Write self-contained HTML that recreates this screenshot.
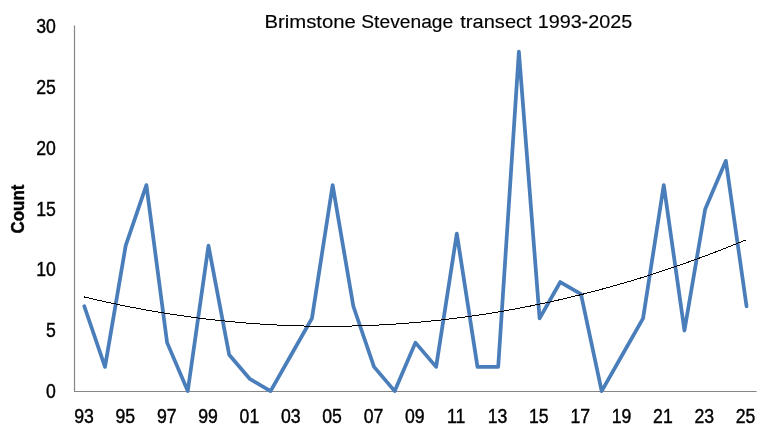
<!DOCTYPE html>
<html><head><meta charset="utf-8"><title>Brimstone Stevenage transect 1993-2025</title><style>
html,body{margin:0;padding:0;background:#fff;overflow:hidden;}
svg{display:block;will-change:transform;}
text{font-family:"Liberation Sans",sans-serif;fill:#000;}
.ax text{font-size:19.3px;}
.sk{stroke:#000;stroke-width:0.4px;}
</style></head><body>
<svg width="767" height="435" viewBox="0 0 767 435">
<rect width="767" height="435" fill="#fff"/>
<g style="font-size:19.0px;stroke:#000;stroke-width:0.15px">
<text transform="translate(264.4,28.45) scale(1.0695,1)">Brimstone</text>
<text transform="translate(361.29,28.45) scale(1.0123,1)">Stevenage</text>
<text transform="translate(460.29,28.45) scale(1.0563,1)">transect</text>
<text transform="translate(537.65,28.45) scale(1.0415,1)">1993-2025</text>
</g>
<g class="ax sk">
<text transform="translate(55.9,398.14) scale(0.915,1)" text-anchor="end">0</text>
<text transform="translate(55.9,337.27) scale(0.915,1)" text-anchor="end">5</text>
<text transform="translate(55.9,276.40) scale(0.915,1)" text-anchor="end">10</text>
<text transform="translate(55.9,215.53) scale(0.915,1)" text-anchor="end">15</text>
<text transform="translate(55.9,154.66) scale(0.915,1)" text-anchor="end">20</text>
<text transform="translate(55.9,93.79) scale(0.915,1)" text-anchor="end">25</text>
<text transform="translate(55.9,32.92) scale(0.915,1)" text-anchor="end">30</text>
<text transform="translate(84.00,422.6) scale(0.915,1)" text-anchor="middle">93</text>
<text transform="translate(125.35,422.6) scale(0.915,1)" text-anchor="middle">95</text>
<text transform="translate(166.70,422.6) scale(0.915,1)" text-anchor="middle">97</text>
<text transform="translate(208.05,422.6) scale(0.915,1)" text-anchor="middle">99</text>
<text transform="translate(249.40,422.6) scale(0.915,1)" text-anchor="middle">01</text>
<text transform="translate(290.75,422.6) scale(0.915,1)" text-anchor="middle">03</text>
<text transform="translate(332.10,422.6) scale(0.915,1)" text-anchor="middle">05</text>
<text transform="translate(373.45,422.6) scale(0.915,1)" text-anchor="middle">07</text>
<text transform="translate(414.80,422.6) scale(0.915,1)" text-anchor="middle">09</text>
<text transform="translate(456.15,422.6) scale(0.915,1)" text-anchor="middle">11</text>
<text transform="translate(497.50,422.6) scale(0.915,1)" text-anchor="middle">13</text>
<text transform="translate(538.85,422.6) scale(0.915,1)" text-anchor="middle">15</text>
<text transform="translate(580.20,422.6) scale(0.915,1)" text-anchor="middle">17</text>
<text transform="translate(621.55,422.6) scale(0.915,1)" text-anchor="middle">19</text>
<text transform="translate(662.90,422.6) scale(0.915,1)" text-anchor="middle">21</text>
<text transform="translate(704.25,422.6) scale(0.915,1)" text-anchor="middle">23</text>
<text transform="translate(745.60,422.6) scale(0.915,1)" text-anchor="middle">25</text>
</g>
<text class="sk" transform="translate(23.7,209.1) rotate(-90) scale(0.96,1)" text-anchor="middle" style="font-size:17.65px;font-weight:bold">Count</text>
<path d="M74.5,25.5 V391.5 H756.6" fill="none" stroke="#868686" stroke-width="1.2"/>
<polyline points="84.30,306.26 105.00,366.86 125.69,245.66 146.38,185.06 167.08,342.62 187.77,391.10 208.47,245.66 229.17,354.74 249.86,378.98 270.56,391.10 291.25,354.74 311.94,318.38 332.64,185.06 353.34,306.26 374.03,366.86 394.73,391.10 415.42,342.62 436.12,366.86 456.81,233.54 477.50,366.86 498.20,366.86 518.89,51.74 539.59,318.38 560.28,282.02 580.98,294.14 601.67,391.10 622.37,354.74 643.06,318.38 663.76,185.06 684.45,330.50 705.15,209.30 725.84,160.82 746.54,306.26" fill="none" stroke="#4A7EBB" stroke-width="3.75" stroke-linejoin="round" stroke-linecap="round"/>
<polyline points="84.30,296.96 94.65,299.40 105.00,301.74 115.34,303.96 125.69,306.09 136.04,308.10 146.38,310.01 156.73,311.82 167.08,313.52 177.43,315.11 187.77,316.59 198.12,317.98 208.47,319.25 218.82,320.42 229.17,321.48 239.51,322.44 249.86,323.29 260.21,324.04 270.56,324.68 280.90,325.21 291.25,325.64 301.60,325.96 311.94,326.18 322.29,326.29 332.64,326.29 342.99,326.19 353.34,325.98 363.68,325.67 374.03,325.25 384.38,324.73 394.73,324.10 405.07,323.36 415.42,322.52 425.77,321.57 436.12,320.52 446.46,319.36 456.81,318.09 467.16,316.72 477.50,315.24 487.85,313.66 498.20,311.97 508.55,310.17 518.89,308.27 529.24,306.27 539.59,304.15 549.94,301.93 560.28,299.61 570.63,297.18 580.98,294.64 591.33,292.00 601.67,289.25 612.02,286.40 622.37,283.44 632.72,280.38 643.06,277.20 653.41,273.93 663.76,270.54 674.11,267.06 684.45,263.46 694.80,259.76 705.15,255.95 715.50,252.04 725.84,248.02 736.19,243.90 746.54,239.67" fill="none" stroke="#000" stroke-width="1" shape-rendering="crispEdges"/>
</svg>
</body></html>
